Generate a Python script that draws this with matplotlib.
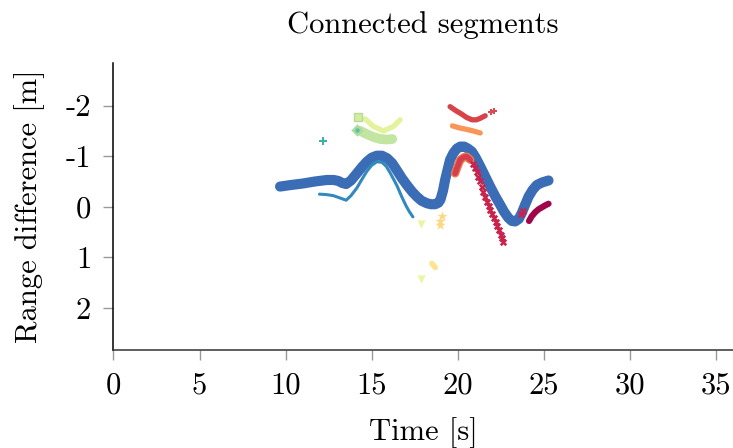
import matplotlib
matplotlib.use("Agg")
import matplotlib.pyplot as plt

# segments (time [s], range difference [m])
main_t = [9.68, 10.3, 11.0, 11.7, 12.4, 12.8, 13.07, 13.3, 13.52, 13.8, 14.14, 14.45,
          14.72, 15.0, 15.3, 15.6, 15.9, 16.2, 16.47, 16.75, 17.05, 17.35, 17.63, 17.9,
          18.21, 18.45, 18.69, 18.88, 19.0, 19.15, 19.27, 19.42, 19.56, 19.75, 19.95,
          20.15, 20.38, 20.6, 20.83, 21.05, 21.31, 21.6, 21.89, 22.18, 22.47, 22.7,
          22.95, 23.15, 23.34, 23.55, 23.73, 23.92, 24.12, 24.35, 24.6, 24.9, 25.28]
main_r = [-0.40, -0.43, -0.46, -0.50, -0.53, -0.53, -0.51, -0.47, -0.45, -0.52, -0.66, -0.79,
          -0.89, -0.97, -1.01, -1.01, -0.96, -0.86, -0.72, -0.57, -0.43, -0.30, -0.20, -0.12,
          -0.07, -0.05, -0.05, -0.08, -0.14, -0.32, -0.53, -0.74, -0.93, -1.06, -1.15,
          -1.19, -1.19, -1.15, -1.09, -0.97, -0.80, -0.60, -0.40, -0.21, -0.04, 0.10,
          0.22, 0.28, 0.29, 0.24, 0.12, -0.04, -0.20, -0.33, -0.43, -0.48, -0.52]

thin_t = [11.97, 12.4, 12.78, 13.2, 13.52, 13.8, 14.14, 14.45, 14.72, 15.0, 15.3, 15.6,
          15.85, 16.08, 16.3, 16.47, 16.75, 17.0, 17.2, 17.4]
thin_r = [-0.25, -0.24, -0.22, -0.17, -0.13, -0.22, -0.37, -0.55, -0.70, -0.82, -0.89, -0.88,
          -0.80, -0.67, -0.53, -0.42, -0.20, -0.02, 0.10, 0.20]

band_t = [14.35, 14.7, 15.1, 15.5, 15.9, 16.2]
band_r = [-1.50, -1.44, -1.38, -1.34, -1.33, -1.34]

arc_t = [14.62, 15.1, 15.69, 16.27, 16.66]
arc_r = [-1.74, -1.59, -1.50, -1.59, -1.72]

red_t = [19.56, 19.9, 20.2, 20.5, 20.83, 21.1, 21.31, 21.6]
red_r = [-1.98, -1.90, -1.84, -1.77, -1.72, -1.72, -1.75, -1.80]
redplus_t = [21.95, 22.1]
redplus_r = [-1.87, -1.89]

orange_t = [19.7, 20.1, 20.53, 20.9, 21.31]
orange_r = [-1.60, -1.56, -1.53, -1.50, -1.46]

peak_t = [19.85, 20.0, 20.15, 20.35, 20.53, 20.73]
peak_r = [-0.66, -0.80, -0.93, -0.98, -0.99, -0.93]

cross_t = [20.92, 21.02, 21.1, 21.2, 21.3, 21.4, 21.5, 21.6, 21.7, 21.8, 21.9, 22.0,
           22.1, 22.2, 22.3, 22.4, 22.5, 22.58, 22.66, 23.7, 23.8]
cross_r = [-0.84, -0.76, -0.68, -0.59, -0.50, -0.40, -0.30, -0.20, -0.10, -0.02, 0.06, 0.14,
           0.22, 0.30, 0.38, 0.46, 0.55, 0.62, 0.69, 0.14, 0.08]

maroon_t = [24.15, 24.3, 24.5, 24.7, 24.9, 25.1, 25.28]
maroon_r = [0.28, 0.19, 0.11, 0.05, 0.01, -0.03, -0.06]

teal_t, teal_r = [12.2], [-1.31]
diamond_t, diamond_r = [14.17], [-1.52]
square_t, square_r = [14.23], [-1.78]
pale_t, pale_r = [17.85, 17.88], [0.34, 1.43]
star_t, star_r = [19.1, 19.0, 18.95], [0.18, 0.28, 0.36]
yseg_t, yseg_r = [18.5, 18.6, 18.7], [1.12, 1.16, 1.20]

xticks = [0, 5, 10, 15, 20, 25, 30, 35]
yticks = [-2, -1, 0, 1, 2]
ylabels = ["-2", "-1", "0", "1", "2"]

plt.rcParams["font.family"] = "serif"
plt.rcParams["font.serif"] = ["cmr10"]
plt.rcParams["mathtext.fontset"] = "cm"
plt.rcParams["axes.unicode_minus"] = False
plt.rcParams["font.size"] = 22

fig = plt.figure(figsize=(7.33, 4.48), dpi=100)
ax = fig.add_axes([0.1548, 0.219, 0.8452, 0.640])

ax.plot(main_t, main_r, color="#3b6db7", lw=7.3, solid_capstyle="round", solid_joinstyle="round", zorder=3)
ax.plot(thin_t, thin_r, color="#3189bd", lw=2.2, solid_capstyle="round", solid_joinstyle="round", zorder=4)
ax.plot(band_t, band_r, color="#c2e6a1", lw=7, solid_capstyle="round", zorder=3)
ax.plot(arc_t, arc_r, color="#e2f39b", lw=3.8, solid_capstyle="round", zorder=3)
ax.plot(red_t, red_r, color="#d84249", lw=3.8, solid_capstyle="round", zorder=3)
ax.plot(orange_t, orange_r, color="#f99556", lw=3.8, solid_capstyle="round", zorder=3)
ax.plot(peak_t, peak_r, color="#ee7a4e", lw=6, solid_capstyle="round", zorder=4)
ax.plot(peak_t, peak_r, color="#d63d4d", lw=4, solid_capstyle="round", zorder=4)
ax.scatter(cross_t, cross_r, marker="X", s=28, color="#c8234d", lw=0, zorder=4)
ax.plot(maroon_t, maroon_r, color="#a0044a", lw=4.5, solid_capstyle="round", zorder=4)
ax.scatter(redplus_t, redplus_r, marker="P", s=25, color="#dc4a4e", lw=0, zorder=4)
ax.scatter(teal_t, teal_r, marker="P", s=35, color="#3fb0a4", lw=0, zorder=4)
ax.scatter(diamond_t, diamond_r, marker="D", s=40, color="#a8dca0", lw=0, zorder=4)
ax.scatter(diamond_t, diamond_r, marker="o", s=10, color="#5fbea3", lw=0, zorder=5)
ax.scatter(square_t, square_r, marker="s", s=35, color="#d5eca0", edgecolor="#b4dc98", lw=1, zorder=4)
ax.scatter(pale_t, pale_r, marker="v", s=35, color="#ecf5a4", lw=0, zorder=4)
ax.scatter(star_t, star_r, marker="*", s=60, color="#fdd984", lw=0, zorder=4)
ax.plot(yseg_t, yseg_r, color="#fce490", lw=4, solid_capstyle="round", zorder=4)

ax.set_xlim(0, 36)
ax.set_ylim(2.83, -2.84)
ax.set_xticks(xticks)
ax.set_yticks(yticks, ylabels)

for side in ["top", "right"]:
    ax.spines[side].set_visible(False)
ax.spines["left"].set_linewidth(1.1)
ax.spines["bottom"].set_linewidth(1.1)
ax.spines["bottom"].set_color("#333333")
ax.tick_params(direction="out", length=7, width=1, color="#999999", pad=9)

ax.set_title("Connected segments", pad=22, fontsize=22)
ax.set_xlabel("Time [s]", labelpad=13)
ax.set_ylabel("Range difference [m]", labelpad=15)

fig.savefig("out.png", dpi=100)
